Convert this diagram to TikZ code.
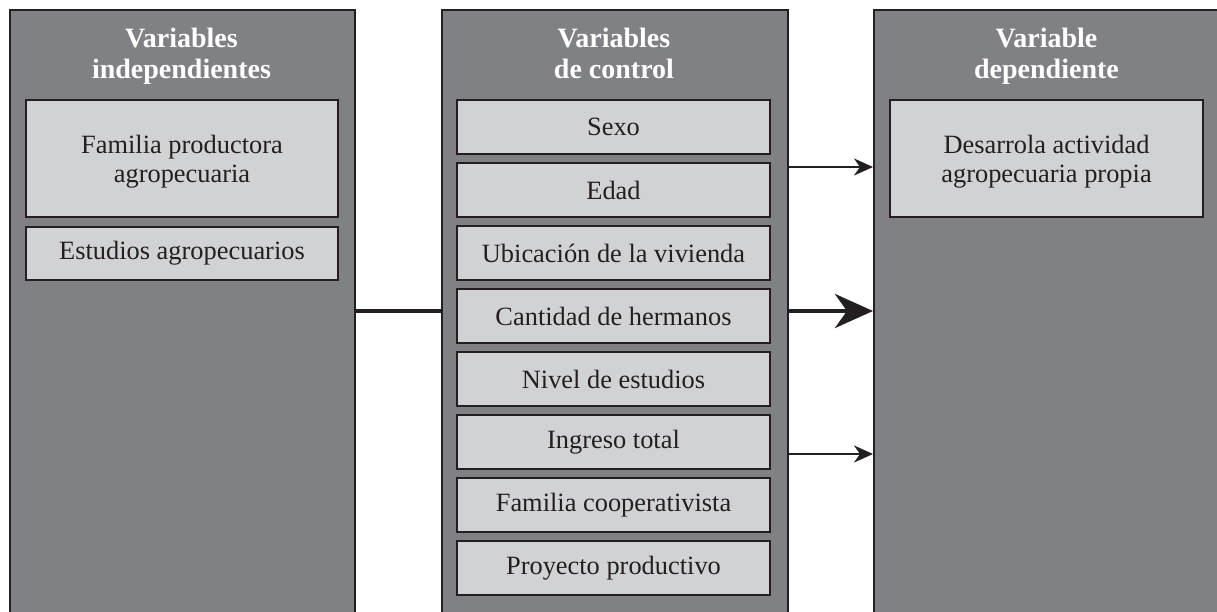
\documentclass[tikz,border=0pt]{standalone}
\usepackage{fontspec}
\setmainfont{Liberation Serif}
\usetikzlibrary{arrows.meta}
\definecolor{panelgray}{HTML}{808185}
\definecolor{innergray}{HTML}{D1D2D4}
\definecolor{ink}{HTML}{231F20}
\tikzset{
 panelbox/.style={draw=ink, line width=2pt, fill=panelgray, anchor=north west, inner sep=0pt},
 itembox/.style={draw=ink, line width=1.5pt, fill=innergray, inner sep=0pt, align=center, text=ink, font=\fontsize{26.4}{29}\selectfont},
 paneltitle/.style={text=white, font=\bfseries\fontsize{28}{31}\selectfont, align=center, inner sep=0pt, anchor=north},
 thinarrow/.style={draw=ink, line width=2pt, -{Stealth[length=19pt,width=17pt,inset=6pt]}},
 thickarrow/.style={draw=ink, line width=4.8pt, -{Stealth[length=38pt,width=34pt,inset=12pt]}},
 thickline/.style={draw=ink, line width=4.8pt},
}
\begin{document}
\begin{tikzpicture}[x=1pt,y=-1pt]
\useasboundingbox (0,0) rectangle (1217,612);
\begin{scope}
\clip (0,0) rectangle (1217,612);
% panels
\node[panelbox, minimum width=345pt, minimum height=640pt] (lp) at (9,9) {};
\node[panelbox, minimum width=346pt, minimum height=640pt] (mp) at (441,9) {};
\node[panelbox, minimum width=400pt, minimum height=640pt] (rp) at (873,9) {};
% titles
\node[paneltitle] (lt) at (181.5,28) {Variables\\independientes};
\node[paneltitle] (mt) at (614,28) {Variables\\de control};
\node[paneltitle] (rt) at (1046.5,28) {Variable\\dependiente};
% left items
\node[itembox, text depth=0pt, minimum width=312pt, minimum height=117pt] (fam) at (182,158.5) {Familia productora\\agropecuaria};
\node[itembox, minimum width=312pt, minimum height=53pt] (est) at (182,253.5) {Estudios agropecuarios};
% middle items
\node[itembox, minimum width=313pt, minimum height=54pt] (sexo) at (613.5,127) {Sexo};
\node[itembox, minimum width=313pt, minimum height=54pt] (edad) at (613.5,190) {Edad};
\node[itembox, minimum width=313pt, minimum height=54pt] (ubic) at (613.5,253) {Ubicación de la vivienda};
\node[itembox, minimum width=313pt, minimum height=54pt] (cant) at (613.5,316) {Cantidad de hermanos};
\node[itembox, minimum width=313pt, minimum height=54pt] (niv) at (613.5,379) {Nivel de estudios};
\node[itembox, minimum width=313pt, minimum height=54pt] (ing) at (613.5,442) {Ingreso total};
\node[itembox, minimum width=313pt, minimum height=54pt] (fco) at (613.5,505) {Familia cooperativista};
\node[itembox, minimum width=313pt, minimum height=54pt] (proy) at (613.5,568) {Proyecto productivo};
% right item
\node[itembox, text depth=0pt, minimum width=313pt, minimum height=117pt] (des) at (1046.5,158.5) {Desarrola actividad\\agropecuaria propia};
% connectors
\coordinate (y1) at (0,167);
\coordinate (y2) at (0,311);
\coordinate (y3) at (0,454);
\draw[thickline] (lp.east |- y2) -- (mp.west |- y2);
\draw[thinarrow] (mp.east |- y1) -- (rp.west |- y1);
\draw[thickarrow] (mp.east |- y2) -- (rp.west |- y2);
\draw[thinarrow] (mp.east |- y3) -- (rp.west |- y3);
\end{scope}
\end{tikzpicture}
\end{document}
